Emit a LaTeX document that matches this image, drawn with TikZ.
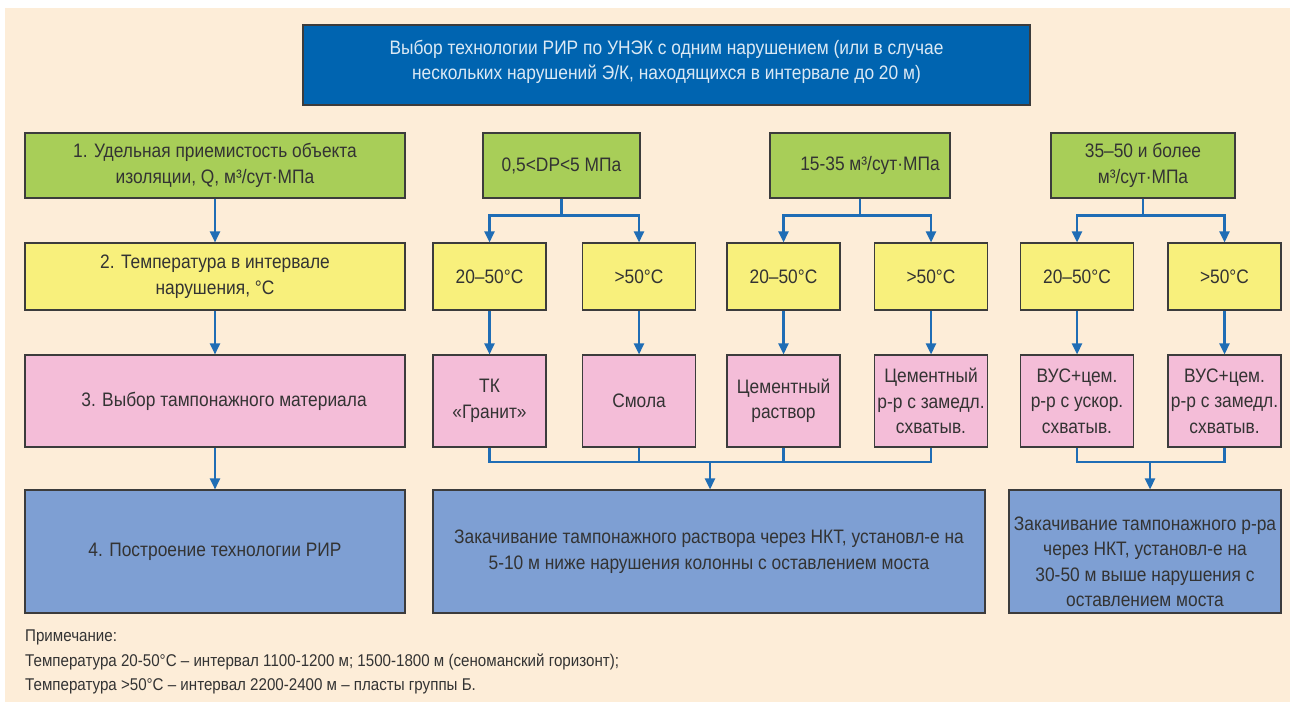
\documentclass[tikz,border=0pt]{standalone}
\usepackage{fontspec}
\setmainfont{Liberation Sans}[FakeStretch=0.89]
\usetikzlibrary{arrows.meta}

\definecolor{bgcream}{HTML}{FDEDD8}
\definecolor{titleblue}{HTML}{0064B0}
\definecolor{boxgreen}{HTML}{A8CE58}
\definecolor{boxyellow}{HTML}{F8F07C}
\definecolor{boxpink}{HTML}{F4BDD8}
\definecolor{boxblue}{HTML}{7E9FD3}
\definecolor{arrblue}{HTML}{1F6DB5}
\definecolor{boxline}{HTML}{3C3C3C}
\definecolor{txtgray}{HTML}{333333}

\tikzset{
	box/.style={draw=boxline, line width=1.1pt, align=center, inner sep=0pt,
		text=txtgray, font=\fontsize{19.5}{25.5}\selectfont},
	wh/.style 2 args={minimum width=#1, minimum height=#2},
	titlebox/.style={box, fill=titleblue, text=white!86!titleblue},
	greenbox/.style={box, fill=boxgreen},
	yellowbox/.style={box, fill=boxyellow},
	pinkbox/.style={box, fill=boxpink},
	bluebox/.style={box, fill=boxblue},
	link/.style={draw=arrblue, line width=2.3pt},
	arr/.style={link, -{Triangle[width=10pt,length=11pt]}},
}

\begin{document}
\begin{tikzpicture}[x=1pt, y=-1pt]
	\useasboundingbox (0,0) rectangle (1297,702);
	\fill[white] (0,0) rectangle (1297,702);
	\fill[bgcream] (5,8) rectangle (1290,702);

	% top
	\node[titlebox, wh={727pt}{80pt}] (title) at (666.5,65)
		{Выбор технологии РИР по УНЭК с одним нарушением (или в случае\\
		 нескольких нарушений Э/К, находящихся в интервале до 20 м)\\[-15pt]};

	% row 1
	\node[greenbox, wh={380pt}{65pt}] (g0) at (215,165.5)
		{1. Удельная приемистость объекта\\изоляции, Q, м³/сут·МПа};
	\node[greenbox, wh={157pt}{65pt}] (g1) at (561.5,165.5) {0,5<DP<5 МПа};
	\node[greenbox, wh={180pt}{65pt}] (g2) at (860,165.5) {\hspace*{20pt}15-35 м³/сут·МПа};
	\node[greenbox, wh={184pt}{65pt}] (g3) at (1143,165.5) {35–50 и более\\м³/сут·МПа};

	% row 2
	\node[yellowbox, wh={380pt}{67pt}] (y0) at (215,276.5)
		{2. Температура в интервале\\нарушения, °C};
	\node[yellowbox, wh={113pt}{67pt}] (y1) at (489.5,276.5) {20–50°C};
	\node[yellowbox, wh={113pt}{67pt}] (y2) at (639,276.5) {>50°C};
	\node[yellowbox, wh={113pt}{67pt}] (y3) at (783.5,276.5) {20–50°C};
	\node[yellowbox, wh={113pt}{67pt}] (y4) at (931,276.5) {>50°C};
	\node[yellowbox, wh={113pt}{67pt}] (y5) at (1077,276.5) {20–50°C};
	\node[yellowbox, wh={113pt}{67pt}] (y6) at (1224.5,276.5) {>50°C};

	% row 3
	\node[pinkbox, wh={380pt}{92pt}] (p0) at (215,401)
		{\hspace*{18pt}3. Выбор тампонажного материала};
	\node[pinkbox, wh={113pt}{92pt}] (p1) at (489.5,401) {ТК\\«Гранит»};
	\node[pinkbox, wh={113pt}{92pt}] (p2) at (639,401) {Смола};
	\node[pinkbox, wh={113pt}{92pt}] (p3) at (783.5,401) {Цементный\\раствор};
	\node[pinkbox, wh={113pt}{92pt}] (p4) at (931,401) {Цементный\\р-р с замедл.\\схватыв.};
	\node[pinkbox, wh={113pt}{92pt}] (p5) at (1077,401) {ВУС+цем.\\р-р с ускор.\\схватыв.};
	\node[pinkbox, wh={113pt}{92pt}] (p6) at (1224.5,401) {ВУС+цем.\\р-р с замедл.\\схватыв.};

	% row 4
	\node[bluebox, wh={380pt}{123pt}] (b0) at (215,551.5) {4. Построение технологии РИР};
	\node[bluebox, wh={552pt}{123pt}] (b1) at (709,551.5)
		{Закачивание тампонажного раствора через НКТ, установл-е на\\
		 5-10 м ниже нарушения колонны с оставлением моста};
	\node[bluebox, wh={272pt}{123pt}] (b2) at (1145,551.5)
		{\rule{0pt}{34pt}Закачивание тампонажного р-ра\\через НКТ, установл-е на\\
		 30-50 м выше нарушения с\\оставлением моста};

	% note
	\node[anchor=north west, align=left, inner sep=0pt, text=txtgray,
		font=\fontsize{17}{24.5}\selectfont] (note) at (25,630)
		{Примечание:\\
		 Температура 20-50°C – интервал 1100-1200 м; 1500-1800 м (сеноманский горизонт);\\
		 Температура >50°C – интервал 2200-2400 м – пласты группы Б.};

	\coordinate (m1) at (710,462);
	\coordinate (m2) at (1150,462);

	% left column
	\draw[arr] (g0) -- (y0);
	\draw[arr] (y0) -- (p0);
	\draw[arr] (p0) -- (b0);

	% forks
	\draw[arr] (g1.south) -- ++(0,17) -| (y1.north);
	\draw[arr] (g1.south) -- ++(0,17) -| (y2.north);
	\draw[arr] (g2.south) -- ++(0,17) -| (y3.north);
	\draw[arr] (g2.south) -- ++(0,17) -| (y4.north);
	\draw[arr] (g3.south) -- ++(0,17) -| (y5.north);
	\draw[arr] (g3.south) -- ++(0,17) -| (y6.north);

	\draw[arr] (y1) -- (p1);
	\draw[arr] (y2) -- (p2);
	\draw[arr] (y3) -- (p3);
	\draw[arr] (y4) -- (p4);
	\draw[arr] (y5) -- (p5);
	\draw[arr] (y6) -- (p6);

	% merges
	\draw[link] (p1.south) |- (m1) -| (p4.south);
	\draw[link] (p2.south) -- (p2.south |- m1);
	\draw[link] (p3.south) -- (p3.south |- m1);
	\draw[arr] (m1) -- (m1 |- b1.north);
	\draw[link] (p5.south) |- (m2) -| (p6.south);
	\draw[arr] (m2) -- (m2 |- b2.north);
\end{tikzpicture}
\end{document}
